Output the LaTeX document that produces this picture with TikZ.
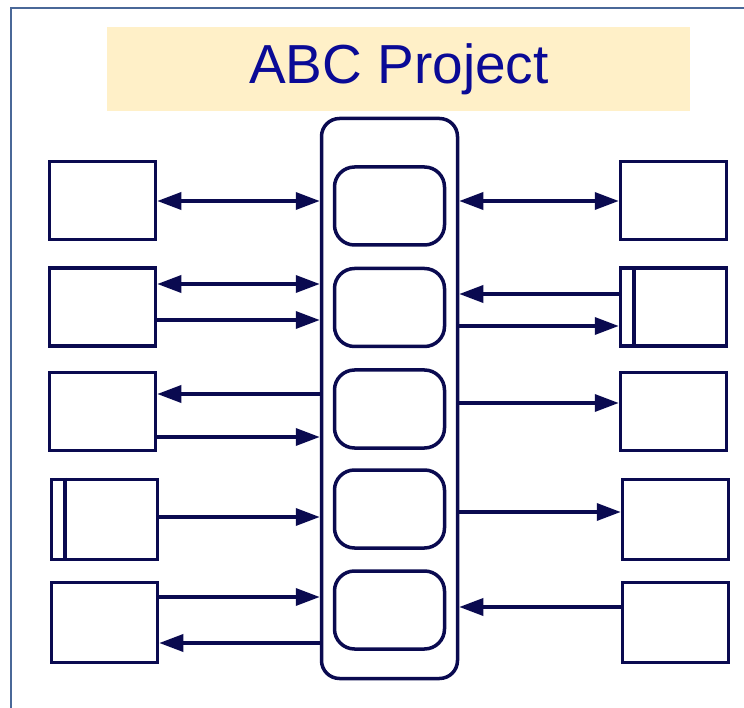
\documentclass[tikz,border=0pt]{standalone}
\usepackage{fontspec}
\setmainfont{Liberation Sans}
\usetikzlibrary{arrows.meta}
\definecolor{navy}{RGB}{10,10,80}
\definecolor{framecol}{RGB}{74,104,152}
\definecolor{titlebg}{RGB}{255,240,200}
\definecolor{titlefg}{RGB}{10,10,150}
\tikzset{
  ext/.style={draw=navy, line width=3.5pt, minimum width=106pt, minimum height=78pt, inner sep=0pt},
  proc/.style={draw=navy, line width=3.5pt, rounded corners=20pt, minimum width=110pt, minimum height=78pt, inner sep=0pt},
  sys/.style={draw=navy, line width=3.5pt, rounded corners=18pt, minimum width=136pt, minimum height=560pt, inner sep=0pt},
  flow/.style={draw=navy, line width=3.5pt, -{Triangle[length=24pt,width=17pt]}},
  bflow/.style={draw=navy, line width=3.5pt, {Triangle[length=24pt,width=17pt]}-{Triangle[length=24pt,width=17pt]}},
  barline/.style={draw=navy, line width=3.5pt}
}
\begin{document}
\begin{tikzpicture}[x=1pt,y=-1pt]
\useasboundingbox (0,0) rectangle (744,708);
\draw[framecol, line width=2pt] (11,720) -- (11,8) -- (760,8);
\node[fill=titlebg, minimum width=583pt, minimum height=84pt, inner sep=0pt] (title) at (398.5,69) {};
\node[text=titlefg, font=\fontsize{55}{62}\selectfont] (tt) at (399,69) {ABC Project};
% central system
\node[sys] (C) at (389.5,398.5) {};
\node[proc] (P1) at (389.5,206) {};
\node[proc] (P2) at (389.5,307.5) {};
\node[proc] (P3) at (389.5,409) {};
\node[proc] (P4) at (389.5,509) {};
\node[proc] (P5) at (389.5,610) {};
% left boxes
\node[ext] (L1) at (102.5,200.5) {};
\node[ext] (L2) at (102.5,307) {};
\node[ext] (L3) at (102.5,411.5) {};
\node[ext, minimum height=80pt] (L4) at (104.5,519.5) {};
\node[ext, minimum height=80pt] (L5) at (104.5,622.5) {};
% right boxes
\node[ext] (R1) at (673.5,200.5) {};
\node[ext] (R2) at (673.5,307) {};
\node[ext] (R3) at (673.5,411.5) {};
\node[ext, minimum height=80pt] (R4) at (675.5,519.5) {};
\node[ext, minimum height=80pt] (R5) at (675.5,622.5) {};
% bars
\draw[barline] (L4.north west -| 65,0) -- (L4.south west -| 65,0);
\draw[barline] (R2.north west -| 634,0) -- (R2.south west -| 634,0);
% left arrows
\draw[bflow] (L1.east |- 0,201) -- (C.west |- 0,201);
\draw[bflow] (L2.east |- 0,284) -- (C.west |- 0,284);
\draw[flow] (L2.east |- 0,320) -- (C.west |- 0,320);
\draw[flow] (C.west |- 0,394) -- (L3.east |- 0,394);
\draw[flow] (L3.east |- 0,437) -- (C.west |- 0,437);
\draw[flow] (L4.east |- 0,517) -- (C.west |- 0,517);
\draw[flow] (L5.east |- 0,597) -- (C.west |- 0,597);
\draw[flow] (C.west |- 0,643) -- (L5.east |- 0,643);
% right arrows
\draw[bflow] (C.east |- 0,201) -- (R1.west |- 0,201);
\draw[flow] (R2.west |- 0,294) -- (C.east |- 0,294);
\draw[flow] (C.east |- 0,326) -- (R2.west |- 0,326);
\draw[flow] (C.east |- 0,403) -- (R3.west |- 0,403);
\draw[flow] (C.east |- 0,512) -- (R4.west |- 0,512);
\draw[flow] (R5.west |- 0,607) -- (C.east |- 0,607);
\end{tikzpicture}
\end{document}
